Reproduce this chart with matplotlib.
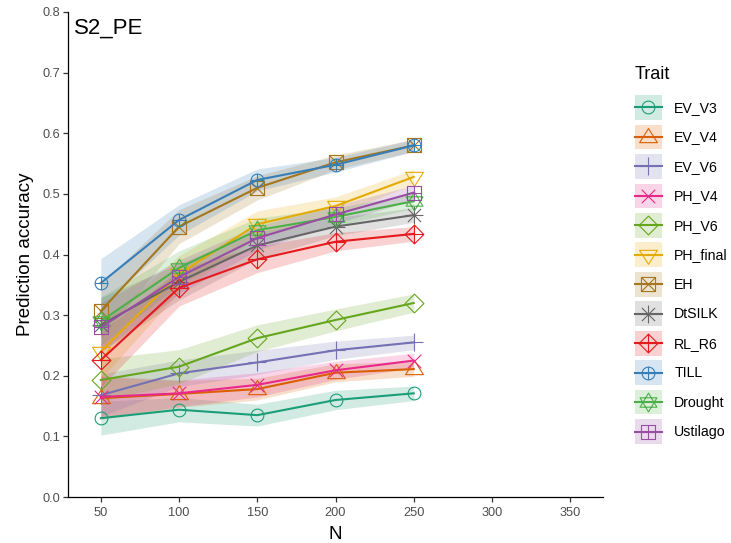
import matplotlib.pyplot as plt
import numpy as np
from matplotlib.path import Path
from matplotlib.lines import Line2D
from matplotlib.patches import Rectangle

plt.rcParams['font.family'] = ['Liberation Sans', 'DejaVu Sans']

n = [50, 100, 150, 200, 250]
traits = ["EV_V3", "EV_V4", "EV_V6", "PH_V4", "PH_V6", "PH_final",
          "EH", "DtSILK", "RL_R6", "TILL", "Drought", "Ustilago"]
colors = ["#1b9e77", "#d95f02", "#7570b3", "#e7298a", "#66a61e", "#e6ab02",
          "#a6761d", "#666666", "#e41a1c", "#377eb8", "#4daf4a", "#984ea3"]

acc = {
    "EV_V3":    [0.130, 0.144, 0.135, 0.160, 0.171],
    "EV_V4":    [0.163, 0.170, 0.178, 0.205, 0.211],
    "EV_V6":    [0.168, 0.204, 0.222, 0.242, 0.255],
    "PH_V4":    [0.165, 0.171, 0.185, 0.209, 0.225],
    "PH_V6":    [0.193, 0.215, 0.262, 0.292, 0.320],
    "PH_final": [0.240, 0.368, 0.450, 0.480, 0.528],
    "EH":       [0.307, 0.446, 0.510, 0.552, 0.580],
    "DtSILK":   [0.284, 0.355, 0.415, 0.446, 0.465],
    "RL_R6":    [0.226, 0.345, 0.392, 0.421, 0.434],
    "TILL":     [0.353, 0.457, 0.523, 0.548, 0.580],
    "Drought":  [0.290, 0.378, 0.440, 0.462, 0.488],
    "Ustilago": [0.280, 0.363, 0.427, 0.466, 0.502],
}
se = {
    "EV_V3":    [0.028, 0.020, 0.018, 0.016, 0.012],
    "EV_V4":    [0.035, 0.022, 0.018, 0.015, 0.012],
    "EV_V6":    [0.035, 0.022, 0.020, 0.015, 0.012],
    "PH_V4":    [0.035, 0.022, 0.020, 0.015, 0.012],
    "PH_V6":    [0.035, 0.028, 0.022, 0.018, 0.015],
    "PH_final": [0.045, 0.030, 0.022, 0.015, 0.012],
    "EH":       [0.045, 0.028, 0.020, 0.012, 0.010],
    "DtSILK":   [0.045, 0.030, 0.022, 0.015, 0.012],
    "RL_R6":    [0.045, 0.030, 0.022, 0.015, 0.012],
    "TILL":     [0.040, 0.025, 0.018, 0.012, 0.010],
    "Drought":  [0.040, 0.028, 0.020, 0.015, 0.012],
    "Ustilago": [0.040, 0.028, 0.020, 0.015, 0.012],
}

M, L, C = Path.MOVETO, Path.LINETO, Path.CLOSEPOLY


def poly(pts):
    return Path(pts + [pts[0]], [M] + [L] * (len(pts) - 1) + [C])


def seg(pairs):
    verts, codes = [], []
    for a, b in pairs:
        verts += [a, b]
        codes += [M, L]
    return Path(verts, codes)


def circ(r):
    c = Path.unit_circle()
    return Path(c.vertices * r, c.codes)


sq = poly([(-0.75, -0.75), (0.75, -0.75), (0.75, 0.75), (-0.75, 0.75)])
tri_up = poly([(-0.95, -0.55), (0.95, -0.55), (0, 0.95)])
tri_dn = poly([(-0.95, 0.55), (0.95, 0.55), (0, -0.95)])
diam = poly([(0, -1), (1, 0), (0, 1), (-1, 0)])
plus = seg([((-0.95, 0), (0.95, 0)), ((0, -0.95), (0, 0.95))])

markers = [
    circ(0.68),
    tri_up,
    plus,
    seg([((-0.72, -0.72), (0.72, 0.72)), ((-0.72, 0.72), (0.72, -0.72))]),
    diam,
    tri_dn,
    Path.make_compound_path(sq, seg([((-0.75, -0.75), (0.75, 0.75)),
                                     ((-0.75, 0.75), (0.75, -0.75))])),
    Path.make_compound_path(plus, seg([((-0.7, -0.7), (0.7, 0.7)),
                                       ((-0.7, 0.7), (0.7, -0.7))])),
    Path.make_compound_path(diam, seg([((-1, 0), (1, 0)), ((0, -1), (0, 1))])),
    Path.make_compound_path(circ(0.68), seg([((-0.68, 0), (0.68, 0)),
                                             ((0, -0.68), (0, 0.68))])),
    Path.make_compound_path(poly([(-0.9, -0.5), (0.9, -0.5), (0, 1.0)]),
                            poly([(-0.9, 0.5), (0.9, 0.5), (0, -1.0)])),
    Path.make_compound_path(sq, seg([((-0.75, 0), (0.75, 0)),
                                     ((0, -0.75), (0, 0.75))])),
]
BASE = 13.5


def msize(p):
    return BASE * np.abs(p.vertices).max()


fig = plt.figure(figsize=(7.31, 5.43), dpi=100)
ax = fig.add_axes([68 / 731, 46 / 543, 535 / 731, 485 / 543])

for t, c in zip(traits, colors):
    y = np.array(acc[t])
    e = np.array(se[t])
    ax.fill_between(n, y - e, y + e, color=c, alpha=0.2, linewidth=0)
for t, c, mk in zip(traits, colors, markers):
    ax.plot(n, acc[t], color=c, lw=1.5, marker=mk, markersize=msize(mk),
            markerfacecolor='none', markeredgecolor=c, markeredgewidth=0.8)

ax.set_xlim(29, 371)
ax.set_ylim(0, 0.8)
ax.set_xticks([50, 100, 150, 200, 250, 300, 350])
ax.set_yticks(np.arange(0, 0.81, 0.1))
ax.set_yticklabels([f"{v:.1f}" for v in np.arange(0, 0.81, 0.1)])
for s in ["top", "right"]:
    ax.spines[s].set_visible(False)
for s in ["left", "bottom"]:
    ax.spines[s].set_linewidth(0.9)
ax.tick_params(length=3.5, width=0.9, color="#333333", labelcolor="#4d4d4d",
               labelsize=9.2, pad=2)
ax.tick_params(axis="x", pad=4)
ax.set_xlabel("N", fontsize=13.5, labelpad=5)
ax.set_ylabel("Prediction accuracy", fontsize=13.5, labelpad=6)
ax.text(0.011, 0.988, "S2_PE", transform=ax.transAxes, fontsize=16,
        va="top", ha="left")


class Key:
    def __init__(self, color, marker):
        self.color = color
        self.marker = marker


class KeyHandler:
    def legend_artist(self, legend, orig_handle, fontsize, handlebox):
        x0, y0 = -handlebox.xdescent, -handlebox.ydescent
        w, h = handlebox.width, handlebox.height
        tr = handlebox.get_transform()
        c = orig_handle.color
        rect = Rectangle((x0, y0), w, h, facecolor=c, alpha=0.2,
                         edgecolor='none', transform=tr)
        ln = Line2D([x0, x0 + w], [y0 + h / 2] * 2, color=c, lw=1.5,
                    transform=tr)
        mk = Line2D([x0 + w / 2], [y0 + h / 2], marker=orig_handle.marker,
                    markersize=msize(orig_handle.marker), markerfacecolor='none',
                    markeredgecolor=c, markeredgewidth=0.8, transform=tr)
        for a in (rect, ln, mk):
            handlebox.add_artist(a)
        return rect


handles = [Key(c, mk) for c, mk in zip(colors, markers)]
leg = fig.legend(handles, traits, handler_map={Key: KeyHandler()},
                 loc="upper left", bbox_to_anchor=(629 / 731, 1 - 60 / 543),
                 frameon=False, title="Trait", title_fontsize=13, fontsize=10.2,
                 handlelength=1.9, handleheight=2.3, labelspacing=0.34,
                 handletextpad=0.9, borderaxespad=0)
leg._legend_box.align = "left"
leg._legend_box.sep = 9

fig.savefig("out.png", dpi=100)
